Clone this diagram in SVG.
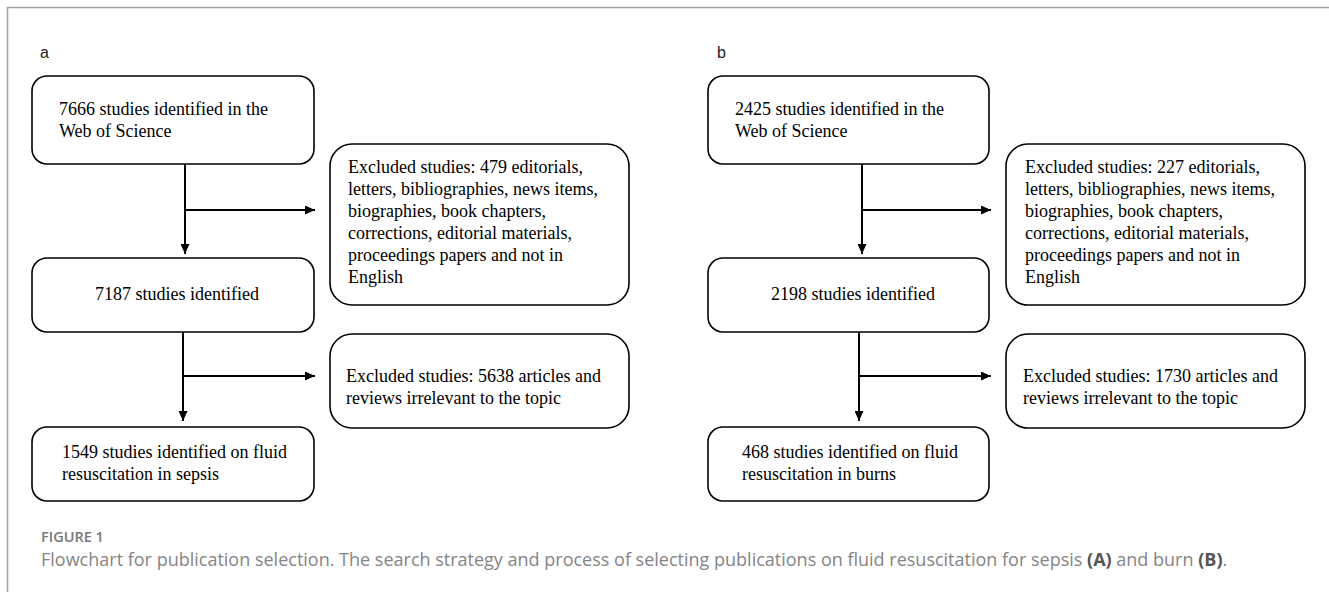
<svg xmlns="http://www.w3.org/2000/svg" width="1329" height="592" viewBox="0 0 1329 592">
<defs>
<marker id="ah" markerUnits="userSpaceOnUse" markerWidth="11" markerHeight="9" refX="10" refY="4.5" orient="auto">
<path d="M0,0 L10,4.5 L0,9 z" fill="#000"/>
</marker>
<style>
.box{fill:#fff;stroke:#000;stroke-width:1.6}
.t{font-family:"Liberation Serif","Times New Roman",serif;font-size:18px;fill:#000}
.lbl{font-family:"Liberation Sans",Arial,sans-serif;font-size:16px;fill:#222}
.con{stroke:#000;stroke-width:2;fill:none}
.arr{marker-end:url(#ah)}
.fig{font-family:"Open Sans","Noto Sans",sans-serif;font-size:14.5px;font-weight:600;fill:#777}
.cap{font-family:"Open Sans","Noto Sans",sans-serif;font-size:18px;fill:#858585}
.capb{font-weight:700;fill:#555}
</style>
</defs>
<rect width="1329" height="592" fill="#fff"/>
<path d="M7.5,592 V7.5 H1329" fill="none" stroke="#a0a0a0" stroke-width="1.5"/>

<text class="lbl" x="40" y="58">a</text>
<text class="lbl" x="717" y="58">b</text>

<g id="connectors">
<line class="con arr" x1="185" y1="164" x2="185" y2="254"/>
<line class="con arr" x1="185" y1="210" x2="315" y2="210"/>
<line class="con arr" x1="183" y1="332" x2="183" y2="421"/>
<line class="con arr" x1="183" y1="376" x2="315" y2="376"/>
<line class="con arr" x1="862" y1="164" x2="862" y2="254"/>
<line class="con arr" x1="862" y1="210" x2="991" y2="210"/>
<line class="con arr" x1="859" y1="332" x2="859" y2="421"/>
<line class="con arr" x1="859" y1="376" x2="991" y2="376"/>
</g>

<g id="a1">
<rect class="box" x="32" y="76" width="282" height="88" rx="15"/>
<text class="t" x="59" y="115">7666 studies identified in the</text>
<text class="t" x="59" y="137">Web of Science</text>
</g>
<g id="a_ex1">
<rect class="box" x="330" y="144" width="299" height="161" rx="22"/>
<text class="t" x="348" y="173">Excluded studies: 479 editorials,</text>
<text class="t" x="348" y="195">letters, bibliographies, news items,</text>
<text class="t" x="348" y="217">biographies, book chapters,</text>
<text class="t" x="348" y="239">corrections, editorial materials,</text>
<text class="t" x="348" y="261">proceedings papers and not in</text>
<text class="t" x="348" y="283">English</text>
</g>
<g id="a2">
<rect class="box" x="32" y="258" width="282" height="74" rx="15"/>
<text class="t" x="95" y="300">7187 studies identified</text>
</g>
<g id="a_ex2">
<rect class="box" x="330" y="334" width="299" height="94" rx="22"/>
<text class="t" x="346" y="382">Excluded studies: 5638 articles and</text>
<text class="t" x="346" y="404">reviews irrelevant to the topic</text>
</g>
<g id="a3">
<rect class="box" x="32" y="427" width="282" height="74" rx="15"/>
<text class="t" x="62" y="458">1549 studies identified on fluid</text>
<text class="t" x="62" y="480">resuscitation in sepsis</text>
</g>

<g id="b1">
<rect class="box" x="708" y="76" width="281" height="88" rx="15"/>
<text class="t" x="735" y="115">2425 studies identified in the</text>
<text class="t" x="735" y="137">Web of Science</text>
</g>
<g id="b_ex1">
<rect class="box" x="1006" y="144" width="299" height="161" rx="22"/>
<text class="t" x="1025" y="173">Excluded studies: 227 editorials,</text>
<text class="t" x="1025" y="195">letters, bibliographies, news items,</text>
<text class="t" x="1025" y="217">biographies, book chapters,</text>
<text class="t" x="1025" y="239">corrections, editorial materials,</text>
<text class="t" x="1025" y="261">proceedings papers and not in</text>
<text class="t" x="1025" y="283">English</text>
</g>
<g id="b2">
<rect class="box" x="708" y="258" width="281" height="74" rx="15"/>
<text class="t" x="771" y="300">2198 studies identified</text>
</g>
<g id="b_ex2">
<rect class="box" x="1006" y="334" width="299" height="94" rx="22"/>
<text class="t" x="1023" y="382">Excluded studies: 1730 articles and</text>
<text class="t" x="1023" y="404">reviews irrelevant to the topic</text>
</g>
<g id="b3">
<rect class="box" x="708" y="427" width="281" height="74" rx="15"/>
<text class="t" x="742" y="458">468 studies identified on fluid</text>
<text class="t" x="742" y="480">resuscitation in burns</text>
</g>

<text class="fig" x="41" y="542">FIGURE 1</text>
<text class="cap" x="41" y="566">Flowchart for publication selection. The search strategy and process of selecting publications on fluid resuscitation for sepsis <tspan class="capb">(A)</tspan> and burn <tspan class="capb">(B)</tspan>.</text>
</svg>
